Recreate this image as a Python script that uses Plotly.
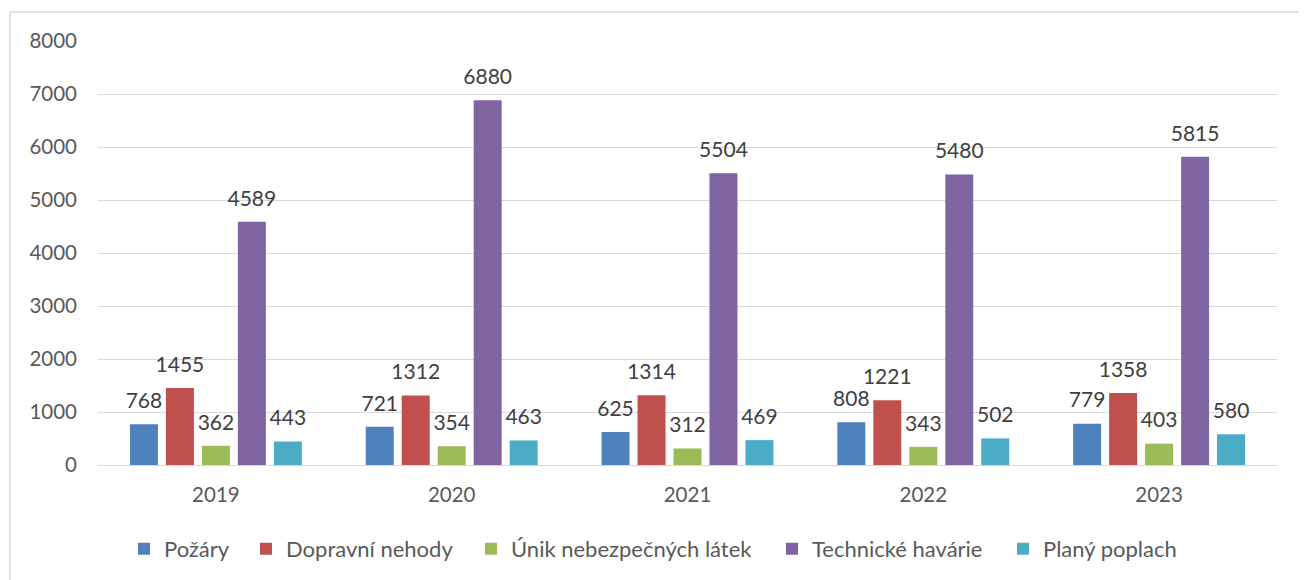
import plotly.graph_objects as go

years = ["2019", "2020", "2021", "2022", "2023"]
series_names = ["Požáry", "Dopravní nehody", "Únik nebezpečných látek", "Technické havárie", "Planý poplach"]
pozary = [768, 721, 625, 808, 779]
dopravni = [1455, 1312, 1314, 1221, 1358]
unik = [362, 354, 312, 343, 403]
technicke = [4589, 6880, 5504, 5480, 5815]
plany = [443, 463, 469, 502, 580]
colors = ["#4F81BD", "#C0504D", "#9BBB59", "#8064A2", "#4BACC6"]
y_ticks = [0, 1000, 2000, 3000, 4000, 5000, 6000, 7000, 8000]

FONT = "Lato, Open Sans, sans-serif"
GAP = 0.237
PAGE_OFF = 8  # default body margin of the html page
W, H = 1307 - PAGE_OFF, 580 - PAGE_OFF
L, R, T = 98 - PAGE_OFF, 30, 41 - PAGE_OFF
B = H - (465 - PAGE_OFF)
pw, ph = W - L - R, H - T - B

# legend square left edges (page px), one legend per series
legend_sq_left = [142, 264, 489, 790, 1021]
SYM_OFF = 18

fig = go.Figure()
all_vals = [pozary, dopravni, unik, technicke, plany]
legend_ids = ["legend"] + [f"legend{i}" for i in range(2, 6)]
for i, (name, vals, col) in enumerate(zip(series_names, all_vals, colors)):
    fig.add_trace(go.Bar(
        x=years, y=vals, name=name, marker=dict(color=col, line=dict(width=0)),
        offsetgroup=str(i), hoverinfo="skip", legend=legend_ids[i],
    ))
for i, (name, vals) in enumerate(zip(series_names, all_vals)):
    fig.add_trace(go.Scatter(
        x=years, y=vals, mode="markers+text", showlegend=False,
        marker=dict(size=16, opacity=0), offsetgroup=str(i),
        text=[str(v) for v in vals], textposition="top center",
        textfont=dict(size=21, color="#404040", family=FONT), cliponaxis=False,
    ))

legend_layouts = {}
for i, lid in enumerate(legend_ids):
    legend_layouts[lid] = dict(
        orientation="h", x=(legend_sq_left[i] - PAGE_OFF - SYM_OFF - L) / pw, xanchor="left",
        y=-0.198, yanchor="middle", bgcolor="rgba(0,0,0,0)",
        font=dict(size=22, color="#595959", family=FONT), itemwidth=30,
    )

fig.update_layout(
    width=W, height=H, margin=dict(l=L, r=R, t=T, b=B, autoexpand=False),
    paper_bgcolor="white", plot_bgcolor="white",
    barmode="group", bargap=GAP, bargroupgap=0.222,
    scattermode="group", scattergap=GAP,
    font=dict(family=FONT, color="#595959", size=21),
    showlegend=True,
    xaxis=dict(showgrid=False, showline=True, linecolor="#d9d9d9", linewidth=1, automargin=False,
               ticklabelstandoff=11,
               tickfont=dict(size=20.5, color="#595959"), ticks=""),
    yaxis=dict(range=[0, 8000], tickvals=y_ticks, showgrid=True, gridcolor="#d9d9d9",
               gridwidth=1, zeroline=False, showline=False, ticks="", automargin=False,
               ticklabelstandoff=20, tickfont=dict(size=20.5, color="#595959")),
    shapes=[dict(type="rect", xref="paper", yref="paper",
                 x0=(10 - PAGE_OFF - L) / pw, x1=(1306 - PAGE_OFF - L) / pw,
                 y0=(H - B - 600) / ph, y1=(H - B - (12 - PAGE_OFF)) / ph,
                 line=dict(color="#d9d9d9", width=1.5), fillcolor="rgba(0,0,0,0)", layer="below")],
    **legend_layouts,
)
fig.write_html("out.html")
